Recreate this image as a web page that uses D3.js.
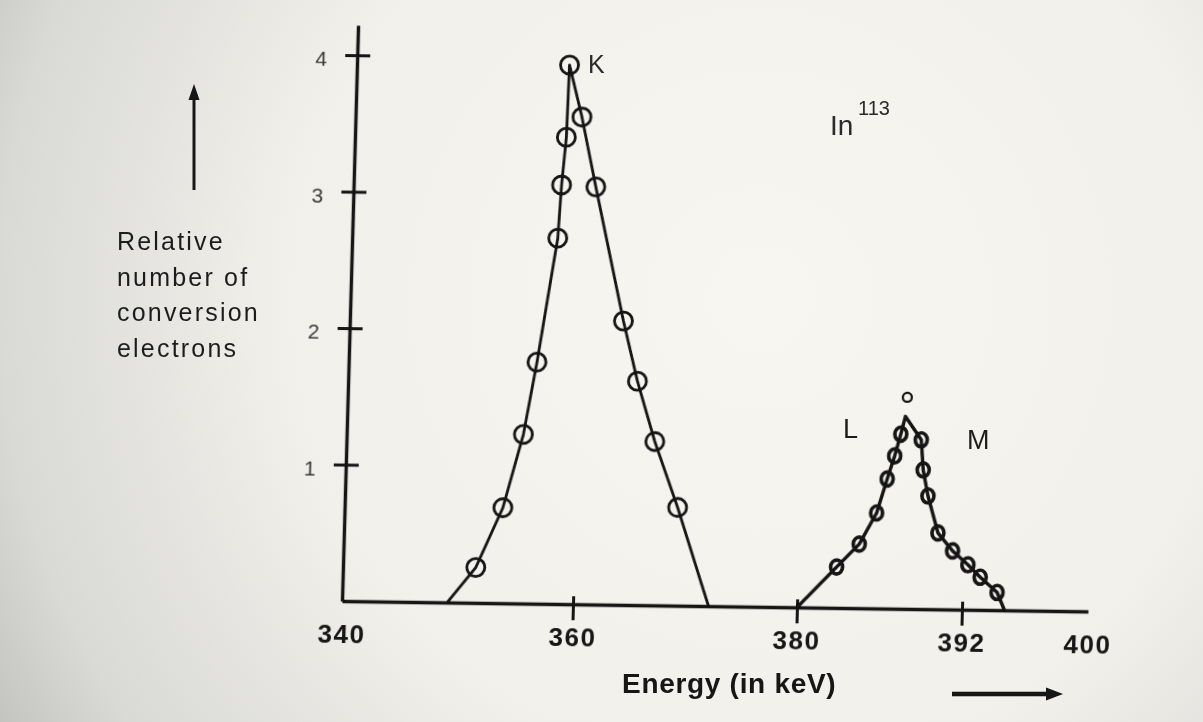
<!DOCTYPE html>
<html>
<head>
<meta charset="utf-8">
<script src="https://cdnjs.cloudflare.com/ajax/libs/d3/7.8.5/d3.min.js"></script>
<style>
    html, body { margin: 0; padding: 0; background: #e8e7e2; }
    svg { display: block; }
</style>
</head>
<body>
<svg id="chart"></svg>
<script>
var xTicks = [340, 360, 380, 392, 400];
var yTicks = [1, 2, 3, 4];
var yTitle = ['Relative', 'number of', 'conversion', 'electrons'];

// K line (keV, relative number)
var kEnergy = [351.5, 353.7, 355.3, 356.3, 357.8, 358.0, 358.3, 358.4, 359.6, 361.0, 363.8, 365.2, 366.9, 369.1];
var kCount  = [0.26, 0.70, 1.24, 1.77, 2.68, 3.07, 3.42, 3.95, 3.57, 3.06, 2.08, 1.64, 1.20, 0.72];
var kFoot   = [349.1, 372.1];   // where the drawn curve meets the axis

// L and M lines
var lmEnergy = [382.8, 384.4, 385.6, 386.3, 386.8, 387.2, 388.7, 388.9, 389.3, 390.1, 391.2, 392.3, 393.1, 394.2];
var lmCount  = [0.30, 0.47, 0.70, 0.95, 1.12, 1.28, 1.24, 1.02, 0.83, 0.56, 0.43, 0.33, 0.24, 0.13];
var lmFoot   = [380.0, 394.7];
var lmApex   = [387.5, 1.41];
var lmTop    = [387.6, 1.55];   // lone small circle above the apex

var $svg = {width: 1203, height: 722};
var $origin = {x: 342, y: 601};
var $ink = '#121212';
var $font = '"Liberation Sans", Arial, sans-serif';

function init () {
    $svg.main = (
        d3.select('svg#chart')
        .attr('width', $svg.width)
        .attr('height', $svg.height)
    );
    makePaper();

    // the printed axis is not to scale, 380..400 is stretched
    $svg.x = d3.scaleLinear().domain(xTicks).range([0, 231, 455, 620, 746]);
    $svg.y = d3.scaleLinear().domain([0, 4.22]).range([0, -576]);

    // the page was photographed a little crooked
    $svg.plot = (
        $svg.main.append('g')
        .attr('transform', `translate(${$origin.x},${$origin.y}) rotate(0.8) skewX(-0.8)`)
        .attr('filter', 'url(#soft)')
    );

    makeAxes();
    makePeak(kEnergy, kCount, kFoot, null, {rx: 9, ry: 9, width: 2.8, line: 2.8});
    makePeak(lmEnergy, lmCount, lmFoot, lmApex, {rx: 6, ry: 7, width: 3.6, line: 3.4});
    makeTopDot();
    makeLabels();
}

function makePaper () {
    var defs = $svg.main.append('defs');
    var grad = (
        defs.append('radialGradient')
        .attr('id', 'paper')
        .attr('gradientUnits', 'userSpaceOnUse')
        .attr('cx', 760).attr('cy', 300).attr('r', 950)
    );
    [[0, '#f7f6f1'], [0.5, '#f1f0eb'], [0.8, '#d9d9d5'], [1, '#b4b4b1']].forEach(([o, c]) => {
        grad.append('stop').attr('offset', o).attr('stop-color', c);
    });
    (
        defs.append('filter')
        .attr('id', 'soft')
        .append('feGaussianBlur')
        .attr('stdDeviation', 0.6)
    );
    (
        $svg.main.append('rect')
        .attr('width', $svg.width)
        .attr('height', $svg.height)
        .attr('fill', 'url(#paper)')
    );
}

function makeAxes () {
    var gx = (
        $svg.plot.append('g')
        .call(
            d3.axisBottom($svg.x)
            .tickValues(xTicks)
            .tickSizeInner(16)
            .tickSizeOuter(0)
            .tickPadding(8)
            .tickFormat(d3.format('d'))
        )
        .attr('font-family', $font)
        .attr('font-size', 26)
    );
    gx.select('.domain').attr('stroke', $ink).attr('stroke-width', 3.6);
    (
        gx.selectAll('.tick line')
        .attr('y1', -8)
        .attr('stroke', $ink)
        .attr('stroke-width', 3)
        .attr('display', d => (d === 340 || d === 400) ? 'none' : null)
    );
    (
        gx.selectAll('.tick text')
        .attr('font-weight', 'bold')
        .attr('letter-spacing', 1.5)
        .attr('fill', '#141414')
    );

    var gy = (
        $svg.plot.append('g')
        .call(
            d3.axisLeft($svg.y)
            .tickValues(yTicks)
            .tickSizeInner(12)
            .tickSizeOuter(0)
            .tickPadding(18)
            .tickFormat(d3.format('d'))
        )
        .attr('font-family', $font)
        .attr('font-size', 21)
    );
    gy.select('.domain').attr('stroke', $ink).attr('stroke-width', 3.4);
    gy.selectAll('.tick line').attr('x1', 13).attr('stroke', $ink).attr('stroke-width', 3);
    gy.selectAll('.tick text').attr('dy', '0.5em').attr('fill', '#383838');
}

function makePeak (energy, count, foot, apex, style) {
    var points = d3.zip(energy, count);
    var path = points.concat([[foot[0], 0], [foot[1], 0]]);
    if (apex) {
        path.push(apex);
    }
    path.sort((a, b) => a[0] - b[0]);

    var line = (
        d3.line()
        .x(d => $svg.x(d[0]))
        .y(d => $svg.y(d[1]))
    );
    (
        $svg.plot.append('path')
        .attr('d', line(path))
        .attr('fill', 'none')
        .attr('stroke', $ink)
        .attr('stroke-width', style.line)
        .attr('stroke-linejoin', 'round')
    );
    (
        $svg.plot.append('g')
        .selectAll('ellipse')
        .data(points)
        .join('ellipse')
        .attr('cx', d => $svg.x(d[0]))
        .attr('cy', d => $svg.y(d[1]))
        .attr('rx', style.rx)
        .attr('ry', style.ry)
        .attr('fill', 'none')
        .attr('stroke', $ink)
        .attr('stroke-width', style.width)
    );
}

function makeTopDot () {
    (
        $svg.plot.append('circle')
        .attr('cx', $svg.x(lmTop[0]))
        .attr('cy', $svg.y(lmTop[1]))
        .attr('r', 4.5)
        .attr('fill', 'none')
        .attr('stroke', $ink)
        .attr('stroke-width', 2.2)
    );
}

function addText (g, str, x, y, size, opts) {
    opts = opts || {};
    return (
        g.append('text')
        .attr('x', x)
        .attr('y', y)
        .attr('font-family', $font)
        .attr('font-size', size)
        .attr('font-weight', opts.weight || 'normal')
        .attr('letter-spacing', opts.spacing || 0)
        .attr('fill', opts.fill || '#1e1e1e')
        .text(str)
    );
}

function makeLabels () {
    var g = $svg.main.append('g').attr('filter', 'url(#soft)');

    // y title with its arrow
    yTitle.forEach((s, i) => {
        addText(g, s, 117, 250 + i * 35.5, 25, {spacing: 2.2});
    });
    g.append('line')
        .attr('x1', 194).attr('y1', 190).attr('x2', 194).attr('y2', 98)
        .attr('stroke', $ink).attr('stroke-width', 3);
    g.append('path')
        .attr('d', 'M194,84 L188.5,100 L199.5,100 Z')
        .attr('fill', $ink);

    // x title with its arrow
    addText(g, 'Energy (in keV)', 622, 693, 28, {weight: 'bold', spacing: 0.7, fill: '#141414'});
    g.append('line')
        .attr('x1', 952).attr('y1', 694).attr('x2', 1048).attr('y2', 694)
        .attr('stroke', $ink).attr('stroke-width', 4.5);
    g.append('path')
        .attr('d', 'M1063,694 L1046,687.5 L1046,700.5 Z')
        .attr('fill', $ink);

    // peak names and nuclide
    addText(g, 'K', 588, 73, 25, {fill: '#2a2a2a'});
    addText(g, 'L', 843, 438, 27);
    addText(g, 'M', 967, 449, 27);
    addText(g, 'In', 830, 135, 28, {fill: '#2a2a2a'});
    addText(g, '113', 858, 115, 20, {fill: '#2a2a2a'});
}

init();
</script>
</body>
</html>
